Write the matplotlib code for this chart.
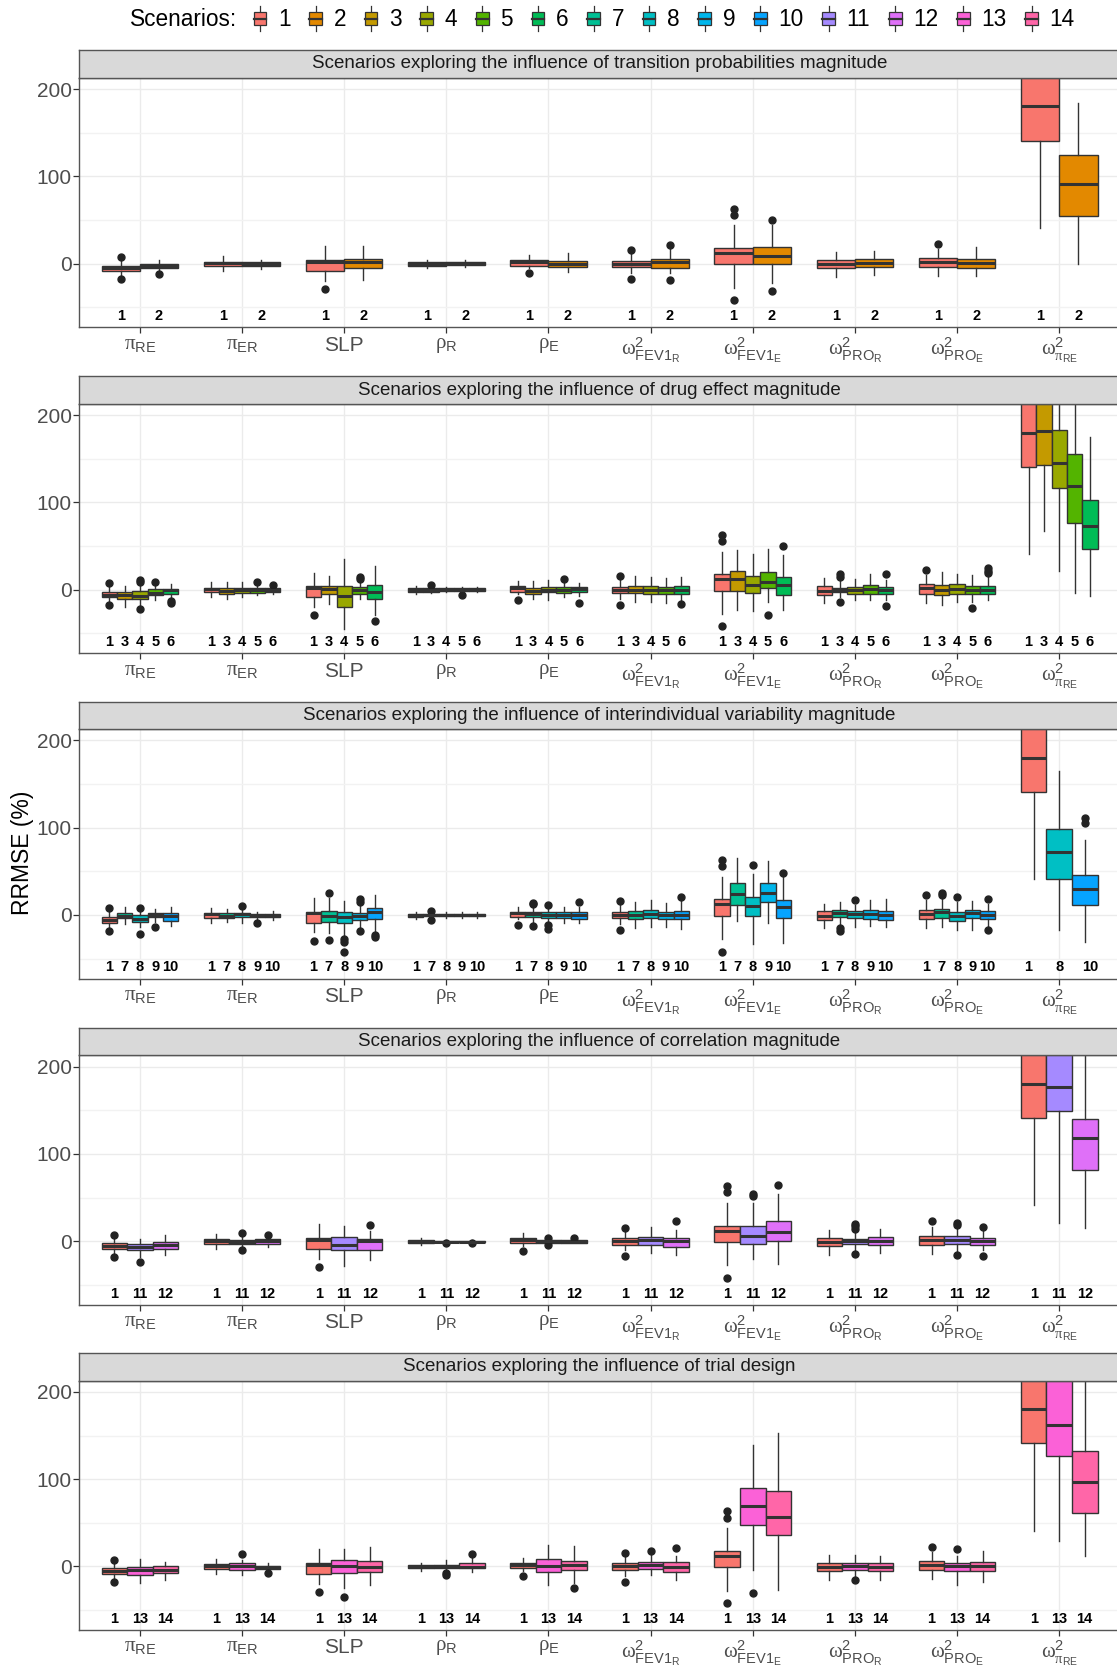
import matplotlib
matplotlib.use('Agg')
import matplotlib.pyplot as plt
from matplotlib.patches import Rectangle
from matplotlib.lines import Line2D
from matplotlib.legend_handler import HandlerBase

plt.rcParams['font.family'] = ['Liberation Sans', 'DejaVu Sans']
plt.rcParams['mathtext.fontset'] = 'custom'
plt.rcParams['mathtext.rm'] = 'Liberation Sans'
plt.rcParams['mathtext.it'] = 'Liberation Sans:italic'
plt.rcParams['mathtext.bf'] = 'Liberation Sans:bold'
plt.rcParams['mathtext.sf'] = 'Liberation Serif'
plt.rcParams['mathtext.default'] = 'regular'

# ---------------- data ----------------
PARAM_LABELS = [r'$\mathsf{\pi}_{RE}$', r'$\mathsf{\pi}_{ER}$', 'SLP', r'$\mathsf{\rho}_{R}$',
                r'$\mathsf{\rho}_{E}$',
                r'$\mathsf{\omega}^{2}_{FEV1_{R}}$', r'$\mathsf{\omega}^{2}_{FEV1_{E}}$',
                r'$\mathsf{\omega}^{2}_{PRO_{R}}$', r'$\mathsf{\omega}^{2}_{PRO_{E}}$',
                r'$\mathsf{\omega}^{2}_{\mathsf{\pi}_{RE}}$']

SCENARIO_COLORS = ['#F8766D', '#E38900', '#C49A00', '#99A800', '#53B400', '#00BC56', '#00C094',
                   '#00BFC4', '#00B6EB', '#06A4FF', '#A58AFF', '#DF70F8', '#FB61D7', '#FF66A8']

PANEL_TITLES = ['Scenarios exploring the influence of transition probabilities magnitude',
                'Scenarios exploring the influence of drug effect magnitude',
                'Scenarios exploring the influence of interindividual variability magnitude',
                'Scenarios exploring the influence of correlation magnitude',
                'Scenarios exploring the influence of trial design']
PANEL_SCENARIOS = [[1, 2], [1, 3, 4, 5, 6], [1, 7, 8, 9, 10], [1, 11, 12], [1, 13, 14]]

# rows: scenarios 1..14 ; columns: the 10 parameters (None = not estimated)
MEDIAN = [
    [-5.7, 0.8, 1.9, -0.4, 1.9, 0.0, 12.0, -1.1, 1.5, 180],
    [-3.0, 0.0, 1.9, 0.4, 0.0, 1.5, 8.3, 0.8, 0.8, 91.7],
    [-6.5, -1.5, 1.1, -0.4, -1.1, 0.0, 12.2, 0.0, 0.0, 181.7],
    [-7.6, 0.0, -7.3, 0.0, 0.0, -0.4, 5.3, -0.8, 0.4, 145],
    [-3.4, 0.0, -0.8, 0.0, 0.0, -0.8, 8.8, 0.8, 0.0, 119],
    [-0.8, -0.8, -2.7, 0.0, 0.4, -0.4, 5.3, 0.0, 0.0, 72.9],
    [-1.1, -1.1, -0.8, 0.0, 0.8, 0.4, 24.2, 2.7, 3.4, None],
    [-4.2, 1.1, -1.9, 0.0, 0.4, 1.5, 10.2, 0.8, -1.1, 71.6],
    [0.0, -1.1, -1.1, 0.0, 0.0, -0.4, 25.4, 0.8, 1.9, None],
    [-1.1, -0.8, 3.8, 0.0, 0.0, 0.4, 8.7, -0.4, -0.4, 29.2],
    [-6.5, -0.8, -4.6, -0.4, 0.0, 1.1, 5.7, 0.4, 1.9, 176.8],
    [-3.8, 0.4, 0.4, -0.4, -0.4, 0.4, 10.6, 0.0, 0.4, 117.9],
    [-3.8, 0.8, 0.0, 0.0, 0.8, 1.1, 69.5, 0.0, 0.0, 162.2],
    [-3.8, -1.1, -1.1, -1.1, 1.1, -0.8, 56.9, -0.8, 0.0, 96.2],
]
Q1 = [
    [-8.7, -3.0, -8.7, -2.3, -2.3, -3.8, -1.1, -5.7, -4.5, 141],
    [-5.7, -2.3, -5.3, -1.5, -3.8, -4.9, -0.4, -4.5, -5.7, 54.5],
    [-10.3, -5.0, -4.6, -2.3, -5.0, -4.2, -1.9, -3.0, -5.7, 143.5],
    [-10.3, -3.8, -19.5, -1.5, -3.0, -4.6, -3.8, -4.6, -4.6, 116.4],
    [-6.5, -3.4, -4.6, -1.5, -3.8, -5.0, 1.9, -4.6, -4.6, 76.7],
    [-5.3, -3.0, -10.3, -1.5, -3.0, -4.6, -5.7, -4.6, -4.6, 46.2],
    [-3.8, -3.4, -7.6, -1.5, -2.7, -4.2, 11.4, -1.9, -3.0, None],
    [-7.6, -2.7, -8.8, -1.5, -3.0, -3.0, -1.1, -3.8, -6.8, 41.3],
    [-2.7, -2.7, -5.7, -1.5, -3.8, -4.9, 15.2, -4.9, -3.8, None],
    [-6.5, -2.7, -4.6, -1.5, -4.2, -4.9, -3.0, -5.7, -4.9, 11.7],
    [-9.5, -3.4, -9.5, -1.0, -1.5, -3.8, -3.4, -3.4, -3.4, 149.4],
    [-8.4, -2.7, -9.5, -1.0, -1.5, -6.5, 0.4, -4.9, -4.9, 81.7],
    [-10.3, -3.8, -7.6, -1.9, -6.5, -3.0, 47.7, -3.8, -5.7, 126.7],
    [-7.6, -3.0, -6.9, -1.9, -4.6, -6.5, 36.3, -5.0, -5.7, 61],
]
Q3 = [
    [-2.3, 2.3, 3.8, 1.5, 3.8, 3.4, 18.0, 4.2, 6.0, 235],
    [-0.4, 1.5, 5.3, 1.9, 3.4, 5.3, 18.6, 5.3, 5.3, 124.6],
    [-2.3, 1.5, 4.6, 1.5, 2.3, 4.2, 21.0, 2.3, 5.3, 225],
    [-1.5, 2.3, 4.2, 1.5, 3.4, 3.8, 15.3, 3.0, 6.1, 183],
    [0.4, 2.3, 3.0, 1.5, 2.7, 3.0, 20.2, 5.3, 4.6, 155],
    [0.8, 1.5, 5.7, 1.5, 3.0, 4.2, 14.5, 3.4, 4.2, 103.4],
    [2.7, 1.9, 5.0, 1.5, 3.0, 4.5, 36.7, 5.3, 7.2, None],
    [0.0, 2.7, 3.4, 1.5, 3.0, 5.3, 20.5, 4.5, 3.4, 98],
    [1.9, 1.1, 2.7, 1.5, 3.8, 3.4, 36.7, 5.3, 5.7, None],
    [1.9, 1.1, 7.6, 1.5, 3.0, 4.5, 17.0, 4.5, 4.2, 46.2],
    [-3.4, 1.9, 4.9, 0.4, 1.5, 4.9, 17.1, 3.0, 5.7, 225],
    [-0.8, 2.3, 3.0, 0.4, 1.0, 4.2, 22.8, 4.9, 4.2, 140.3],
    [-1.1, 3.4, 6.9, 1.9, 8.4, 4.6, 89.7, 3.8, 3.8, 215],
    [0.0, 0.8, 5.7, 3.8, 6.3, 4.6, 85.9, 3.8, 5.3, 132],
]
WHISKER_LOW = [
    [-14, -8.7, -20, -4.9, -5, -10.6, -27.7, -15.5, -14.8, 41],
    [-9, -6, -19.3, -3.8, -9.8, -11.4, -22, -12.9, -14.4, -1.1],
    [-19.8, -10.3, -16.8, -3.8, -10.3, -14, -23.7, -8.4, -18, 66.8],
    [-17, -8.4, -44.7, -3, -12, -14, -24.4, -11.5, -14.5, 21.4],
    [-11.5, -5.7, -10.3, -3, -8, -15.3, -14, -12.2, -14, -3.8],
    [-12.2, -5, -29.4, -3, -7.6, -12.2, -23.7, -11.5, -12.2, -7.6],
    [-10.3, -8.4, -21, -3.8, -7.6, -14.8, -6.8, -12.5, -14.4, None],
    [-13.4, -8.8, -22.9, -3, -9.5, -14, -33.3, -14.4, -17, -17],
    [-7.6, -5.7, -17.2, -3, -9, -14, -9.5, -12.5, -17, None],
    [-12.2, -5.7, -19, -3, -9, -16.3, -32.2, -14.4, -12.5, -30.7],
    [-17.9, -7.2, -28.5, -1.5, -3, -14, -20.9, -10.3, -11.4, 20.9],
    [-16, -6.5, -21.7, -1.5, -2, -16.3, -26.6, -13.3, -10.3, 14.8],
    [-19, -9.5, -24.8, -5.7, -21, -9.9, -3.8, -12.2, -21, 28.6],
    [-15.3, -5.7, -21.8, -6.9, -19, -15.3, -26.7, -16, -17.6, 11.5],
]
WHISKER_HIGH = [
    [4.5, 8.3, 19.7, 3.8, 9.5, 12, 43.6, 13, 16.7, 330],
    [4.5, 4.5, 19.7, 4.5, 12, 16.7, 43.6, 14.8, 18.6, 184.5],
    [3.8, 9.2, 16, 3, 10.3, 16, 45, 11.8, 20, 320],
    [6, 8.8, 35.5, 3, 10.7, 14.5, 41, 12.6, 18.3, 290],
    [6, 6.9, 10.7, 3, 9, 13.7, 47, 18.3, 17.2, 260],
    [6, 3, 27.5, 3, 8, 14.5, 39.3, 11.5, 14.5, 174.8],
    [9.5, 6.9, 19, 3, 9.5, 14.8, 65, 14.8, 17.8, None],
    [3.8, 7.6, 16, 3, 7.6, 16.7, 47.3, 11.7, 14.8, 165.5],
    [6.5, 3.8, 13.4, 3, 9, 14, 62, 17, 15.9, None],
    [9.5, 4.2, 22.9, 3, 9, 15.9, 44.3, 18.6, 12.1, 85.6],
    [2.3, 6.8, 17.5, 1.0, 3, 16.3, 43.7, 11, 15.6, 330],
    [6.8, 4.9, 12, 1.0, 2, 13.3, 53.6, 14.4, 11.8, 250],
    [8.8, 7.6, 20.2, 7.6, 24.8, 13.4, 139.3, 13.4, 11.5, 320],
    [5, 3.8, 22.1, 9.5, 22.9, 12.2, 153.4, 12.2, 17.6, 240],
]
# (scenario, parameter index, outlying values)
OUTLIERS = [
    (1, 0, [7.6, -18]), (1, 2, [-29.5]), (1, 4, [-11.4]), (1, 5, [15.5, -17.4]),
    (1, 6, [63, 56, -42]), (1, 8, [22.7]),
    (2, 0, [-12.5]), (2, 5, [20.8, -19]), (2, 6, [50.4, -31.4]),
    (3, 3, [5.7]), (3, 7, [18.3, 14.5, -14.5]),
    (4, 0, [11.5, 9.2, -22.5]),
    (5, 0, [9.2]), (5, 1, [8.4]), (5, 2, [14.5, 12.6]), (5, 3, [-5.7]), (5, 4, [12.6]),
    (5, 6, [-29]), (5, 8, [-21]),
    (6, 0, [-13.4, -15.3]), (6, 1, [5.3]), (6, 2, [-35.9]), (6, 4, [-15.3]), (6, 5, [-16.4]),
    (6, 6, [49.6]), (6, 7, [18.3, -18.7]), (6, 8, [24.8, 22, 19.5]),
    (7, 2, [25.6, -28.6]), (7, 3, [5, -5.7]), (7, 4, [14, 12.2, -12.6]), (7, 7, [-15.5, -18]),
    (7, 8, [25.4, 23]),
    (8, 0, [7.6, -21.8]), (8, 1, [10.7]), (8, 2, [-27.9, -30.5, -42.7]), (8, 4, [11.5, -11.5, -16.4]),
    (8, 6, [57.6]), (8, 7, [16.7]), (8, 8, [20]),
    (9, 0, [-13.4]), (9, 1, [-8.8]), (9, 2, [18.3, 15.3, -19]),
    (10, 2, [-22.9, -25.6]), (10, 4, [15]), (10, 5, [20.8]), (10, 6, [48.5]), (10, 8, [17.8, -17.4]),
    (10, 9, [110.6, 105.7]),
    (11, 0, [-23.6]), (11, 1, [9.5, -10.3]), (11, 3, [-1.9]), (11, 4, [4.2, -4.6]), (11, 6, [54.4, 51.3]),
    (11, 7, [20, 17, 14.4, -14.8]), (11, 8, [21, 18.3, -16.3]),
    (12, 1, [7.6]), (12, 2, [18.3]), (12, 3, [-1.9]), (12, 4, [4.2]), (12, 5, [23.2]), (12, 6, [65]),
    (12, 8, [16.3, -16.7]),
    (13, 1, [14]), (13, 2, [-35.5]), (13, 3, [-7.6, -9.9]), (13, 5, [17.6]), (13, 6, [-30.5]),
    (13, 7, [-16]), (13, 8, [19.8]),
    (14, 1, [-7.6]), (14, 3, [14.1]), (14, 4, [-24.4]), (14, 5, [20.6]),
]
LABEL_Y = -60
Y_TICKS = [0, 100, 200]

# ---------------- figure ----------------
W, H = 1117, 1667
fig = plt.figure(figsize=(W / 100, H / 100), dpi=100)

EDGE = '#333333'
TICKCOL = '#4D4D4D'

outlier_lookup = {}
for s, j, vals in OUTLIERS:
    outlier_lookup[(s, j)] = vals

left_px = 78.6
right_px = 1120.5
panel_tops = [77.7, 403.9, 729.1, 1055.4, 1380.6]
panel_h = 249.5
strip_h = 27.5

for p, (title, scen) in enumerate(zip(PANEL_TITLES, PANEL_SCENARIOS)):
    top = panel_tops[p]
    ax = fig.add_axes([left_px / W, 1 - (top + panel_h) / H, (right_px - left_px) / W, panel_h / H])
    ax.set_axisbelow(True)

    nslots = len(scen)
    for j in range(len(PARAM_LABELS)):
        present = [s for s in scen if MEDIAN[s - 1][j] is not None]
        n = len(present)
        w = 0.75 / n
        stats, pos, cols = [], [], []
        for i, s in enumerate(present):
            stats.append(dict(med=MEDIAN[s - 1][j], q1=Q1[s - 1][j], q3=Q3[s - 1][j],
                              whislo=WHISKER_LOW[s - 1][j], whishi=WHISKER_HIGH[s - 1][j],
                              fliers=outlier_lookup.get((s, j), [])))
            pos.append((j + 1) - 0.375 + (i + 0.5) * w)
            cols.append(SCENARIO_COLORS[s - 1])
        bp = ax.bxp(stats, positions=pos, widths=w, patch_artist=True, showcaps=False,
                    manage_ticks=False,
                    boxprops=dict(edgecolor=EDGE, linewidth=1.0),
                    medianprops=dict(color=EDGE, linewidth=2.2, solid_capstyle='butt'),
                    whiskerprops=dict(color=EDGE, linewidth=1.0),
                    flierprops=dict(marker='o', markerfacecolor='#222222', markeredgecolor='#222222',
                                    markersize=5))
        for patch, c in zip(bp['boxes'], cols):
            patch.set_facecolor(c)
        # scenario labels on fixed slots
        for k, s in enumerate(scen):
            if MEDIAN[s - 1][j] is None:
                continue
            xk = (j + 1) - 0.375 + (k + 0.5) * 0.75 / nslots
            ax.text(xk, LABEL_Y, str(s), ha='center', va='center', fontsize=10.5,
                    fontweight='bold', color='black')

    ax.set_xlim(0.4, len(PARAM_LABELS) + 0.6)
    ax.set_ylim(-73, 213)
    ax.set_yticks(Y_TICKS)
    ax.set_yticks([-50, 50, 150], minor=True)
    ax.set_xticks(range(1, len(PARAM_LABELS) + 1))
    ax.set_xticklabels(PARAM_LABELS)
    ax.grid(True, which='major', color='#EBEBEB', linewidth=1.0)
    ax.grid(True, which='minor', axis='y', color='#F2F2F2', linewidth=1.0)
    ax.tick_params(axis='both', which='major', colors=EDGE, labelcolor=TICKCOL,
                   labelsize=15, length=4, width=0.9)
    ax.tick_params(axis='y', which='major', pad=1)
    ax.tick_params(axis='x', which='major', pad=2)
    ax.tick_params(which='minor', length=0)
    for sp in ax.spines.values():
        sp.set_color('#555555')
        sp.set_linewidth(1.0)

    # strip
    sax = fig.add_axes([left_px / W, 1 - top / H, (right_px - left_px) / W, strip_h / H])
    sax.set_facecolor('#D9D9D9')
    sax.set_xticks([])
    sax.set_yticks([])
    for sp in sax.spines.values():
        sp.set_color('#555555')
        sp.set_linewidth(1.0)
    sax.text(0.5, 0.5, title, transform=sax.transAxes, ha='center', va='center',
             fontsize=13.5, color='#1A1A1A')

fig.text(23 / W, 1 - 853 / H, 'RRMSE (%)', rotation=90, ha='center', va='center',
         fontsize=16.5, color='black')


# legend with boxplot keys
class BoxKey(HandlerBase):
    def create_artists(self, legend, orig_handle, xdescent, ydescent, width, height, fontsize, trans):
        x0, y0 = -xdescent, -ydescent
        c = orig_handle.get_facecolor()
        cx = x0 + width / 2
        arts = [Line2D([cx, cx], [y0 - 0.15 * height, y0 + 1.15 * height], color=EDGE, lw=0.9,
                       transform=trans)]
        arts.append(Rectangle((x0 + 0.1 * width, y0 + 0.15 * height), 0.8 * width, 0.7 * height,
                              facecolor=c, edgecolor=EDGE, lw=0.9, transform=trans))
        arts.append(Line2D([x0 + 0.1 * width, x0 + 0.9 * width], [y0 + 0.5 * height] * 2,
                           color=EDGE, lw=1.6, transform=trans))
        return arts


handles = [Rectangle((0, 0), 1, 1, facecolor=c) for c in SCENARIO_COLORS]
labels = [str(i + 1) for i in range(len(SCENARIO_COLORS))]
fig.text(130 / W, 1 - 20 / H, 'Scenarios:', ha='left', va='center', fontsize=16.3)
fig.legend(handles, labels, handler_map={Rectangle: BoxKey()}, loc='center left',
           bbox_to_anchor=(252 / W, 1 - 20 / H), ncol=14, frameon=False, fontsize=16.3,
           handlelength=0.7, handleheight=0.9, handletextpad=0.45, columnspacing=0.75,
           borderpad=0, borderaxespad=0)

fig.savefig('out.png', dpi=100)
